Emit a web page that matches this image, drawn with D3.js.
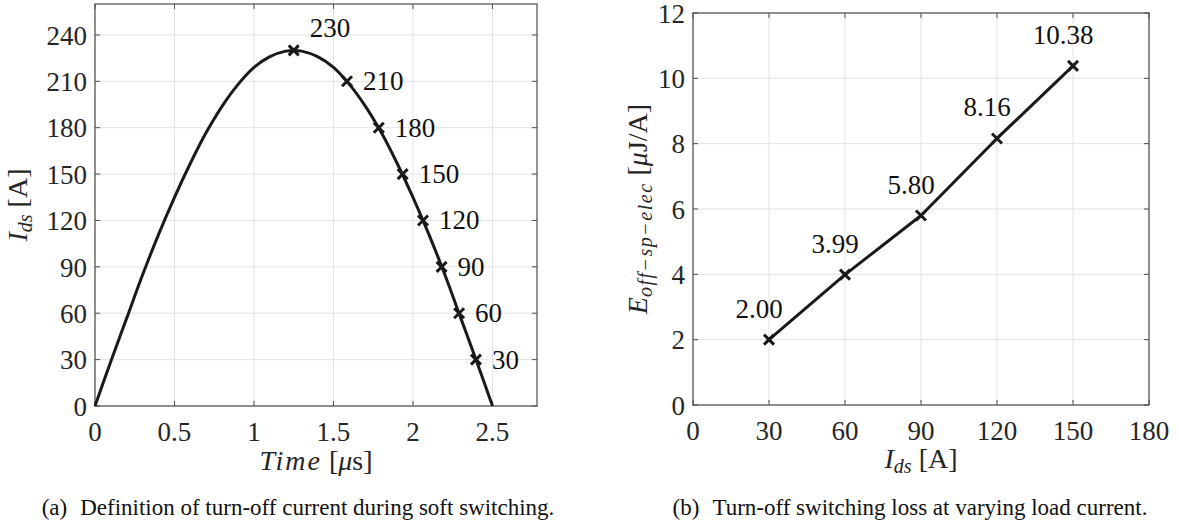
<!DOCTYPE html>
<html>
<head>
<meta charset="utf-8">
<script src="https://cdn.jsdelivr.net/npm/d3@7"></script>
<style>
  body { margin: 0; background: #fff; }
  svg { display: block; }
</style>
</head>
<body>
<div id="chart"></div>
<script>
// ---- data ----
// (a) turn-off current waveform, sampled along the drawn curve
var curveTime = [0, 0.1, 0.2, 0.3, 0.4, 0.5, 0.6, 0.7, 0.8, 0.9, 1.0, 1.1, 1.2, 1.25,
                 1.3, 1.4, 1.5, 1.6, 1.7, 1.8, 1.9, 2.0, 2.1, 2.2, 2.3, 2.4, 2.5];
var curveCurrent = [0, 29, 57, 85, 111, 135, 157, 177, 194, 208, 219, 226, 229.5, 230,
                    229.5, 226, 219, 208, 194, 177, 157, 135, 111, 85, 57, 29, 0];
// marked turn-off points
var markTime = [1.25, 1.585, 1.785, 1.935, 2.063, 2.18, 2.29, 2.396];
var markCurrent = [230, 210, 180, 150, 120, 90, 60, 30];
var timeTicks = [0, 0.5, 1, 1.5, 2, 2.5];
var idsTicks = [0, 30, 60, 90, 120, 150, 180, 210, 240];

// (b) specific turn-off switching loss
var lossCurrent = [30, 60, 90, 120, 150];
var lossEnergy = [2.00, 3.99, 5.80, 8.16, 10.38];
var currentTicks = [0, 30, 60, 90, 120, 150, 180];
var energyTicks = [0, 2, 4, 6, 8, 10, 12];

// ---- setup ----
var W = 1179, H = 527;
var svg = d3.select("#chart").append("svg")
	.attr("width", W)
	.attr("height", H);
svg.append("rect").attr("width", W).attr("height", H).attr("fill", "#fff");

var axisColor = "#4d4d4d",
	labelColor = "#262626",
	gridColor = "#e3e3e3",
	lineColor = "#1a1a1a",
	tickFont = 27;

// draws box, grid, ticks and tick labels for one panel
function drawFrame(g, x, y, xTicks, yTicks) {
	var x0 = x.range()[0], x1 = x.range()[1];
	var y0 = y.range()[0], y1 = y.range()[1];

	// grid
	g.selectAll(".vgrid").data(xTicks).enter().append("line")
		.attr("x1", function (d) { return x(d); }).attr("x2", function (d) { return x(d); })
		.attr("y1", y0).attr("y2", y1)
		.attr("stroke", gridColor).attr("stroke-width", 1);
	g.selectAll(".hgrid").data(yTicks).enter().append("line")
		.attr("y1", function (d) { return y(d); }).attr("y2", function (d) { return y(d); })
		.attr("x1", x0).attr("x2", x1)
		.attr("stroke", gridColor).attr("stroke-width", 1);

	// inward ticks on all four sides
	var tl = 5;
	xTicks.forEach(function (d) {
		g.append("line").attr("x1", x(d)).attr("x2", x(d)).attr("y1", y0).attr("y2", y0 - tl)
			.attr("stroke", axisColor);
		g.append("line").attr("x1", x(d)).attr("x2", x(d)).attr("y1", y1).attr("y2", y1 + tl)
			.attr("stroke", axisColor);
	});
	yTicks.forEach(function (d) {
		g.append("line").attr("y1", y(d)).attr("y2", y(d)).attr("x1", x0).attr("x2", x0 + tl)
			.attr("stroke", axisColor);
		g.append("line").attr("y1", y(d)).attr("y2", y(d)).attr("x1", x1).attr("x2", x1 - tl)
			.attr("stroke", axisColor);
	});

	// box
	g.append("rect")
		.attr("x", x0).attr("y", y1)
		.attr("width", x1 - x0).attr("height", y0 - y1)
		.attr("fill", "none").attr("stroke", axisColor).attr("stroke-width", 1.2);

	// tick labels
	g.selectAll(".xlab").data(xTicks).enter().append("text")
		.attr("x", function (d) { return x(d); })
		.attr("y", y0 + 35)
		.attr("text-anchor", "middle")
		.attr("font-size", tickFont)
		.attr("fill", labelColor)
		.text(function (d) { return String(d); });
	g.selectAll(".ylab").data(yTicks).enter().append("text")
		.attr("x", x0 - 8)
		.attr("y", function (d) { return y(d); })
		.attr("dy", "0.36em")
		.attr("text-anchor", "end")
		.attr("font-size", tickFont)
		.attr("fill", labelColor)
		.text(function (d) { return String(d); });
}

function drawCross(g, cx, cy) {
	var s = 5;
	g.append("path")
		.attr("d", "M" + (cx - s) + "," + (cy - s) + "L" + (cx + s) + "," + (cy + s) +
			"M" + (cx - s) + "," + (cy + s) + "L" + (cx + s) + "," + (cy - s))
		.attr("stroke", lineColor)
		.attr("stroke-width", 3)
		.attr("fill", "none");
}

//=====================================================================
// Panel (a)
//=====================================================================
var xA = d3.scaleLinear().domain([0, 2.78]).range([95, 537]);
var yA = d3.scaleLinear().domain([0, 260]).range([406, 4]);
var gA = svg.append("g");

drawFrame(gA, xA, yA, timeTicks, idsTicks);

var curveData = curveTime.map(function (t, i) { return { t: t, v: curveCurrent[i] }; });
var lineA = d3.line()
	.x(function (d) { return xA(d.t); })
	.y(function (d) { return yA(d.v); })
	.curve(d3.curveCatmullRom);
gA.append("path")
	.datum(curveData)
	.attr("d", lineA)
	.attr("fill", "none")
	.attr("stroke", lineColor)
	.attr("stroke-width", 3)
	.attr("stroke-linejoin", "round");

var peak = d3.max(markCurrent);
markTime.forEach(function (t, i) {
	var cx = xA(t), cy = yA(markCurrent[i]);
	drawCross(gA, cx, cy);
	var isPeak = markCurrent[i] === peak;
	gA.append("text")
		.attr("x", cx + 16)
		.attr("y", isPeak ? cy - 13 : cy + 9)
		.attr("font-size", tickFont)
		.attr("fill", "#111")
		.text(markCurrent[i]);
});

// axis labels (a)
var xlabA = gA.append("text")
	.attr("x", (xA.range()[0] + xA.range()[1]) / 2)
	.attr("y", 470)
	.attr("text-anchor", "middle")
	.attr("font-size", 28)
	.attr("fill", labelColor);
xlabA.append("tspan").attr("font-style", "italic").attr("letter-spacing", 2).text("Time");
xlabA.append("tspan").text(" [");
xlabA.append("tspan").attr("font-style", "italic").text("\u03bc");
xlabA.append("tspan").text("s]");

var ylabA = gA.append("text")
	.attr("transform", "translate(27," + (yA.range()[0] + yA.range()[1]) / 2 + ") rotate(-90)")
	.attr("text-anchor", "middle")
	.attr("font-size", 28)
	.attr("fill", labelColor);
ylabA.append("tspan").attr("font-style", "italic").text("I");
ylabA.append("tspan").attr("font-style", "italic").attr("font-size", 20).attr("dy", 5).text("ds");
ylabA.append("tspan").attr("dy", -5).text(" [A]");

//=====================================================================
// Panel (b)
//=====================================================================
var xB = d3.scaleLinear().domain([0, 180]).range([693, 1149]);
var yB = d3.scaleLinear().domain([0, 12]).range([405, 13]);
var gB = svg.append("g");

drawFrame(gB, xB, yB, currentTicks, energyTicks);

var lossData = lossCurrent.map(function (c, i) { return { c: c, e: lossEnergy[i] }; });
var lineB = d3.line()
	.x(function (d) { return xB(d.c); })
	.y(function (d) { return yB(d.e); });
gB.append("path")
	.datum(lossData)
	.attr("d", lineB)
	.attr("fill", "none")
	.attr("stroke", lineColor)
	.attr("stroke-width", 3)
	.attr("stroke-linejoin", "round");

var fmt2 = d3.format(".2f");
lossData.forEach(function (d) {
	var cx = xB(d.c), cy = yB(d.e);
	drawCross(gB, cx, cy);
	gB.append("text")
		.attr("x", cx - 10)
		.attr("y", cy - 22)
		.attr("text-anchor", "middle")
		.attr("font-size", tickFont)
		.attr("fill", "#111")
		.text(fmt2(d.e));
});

// axis labels (b)
var xlabB = gB.append("text")
	.attr("x", (xB.range()[0] + xB.range()[1]) / 2)
	.attr("y", 468)
	.attr("text-anchor", "middle")
	.attr("font-size", 28)
	.attr("fill", labelColor);
xlabB.append("tspan").attr("font-style", "italic").text("I");
xlabB.append("tspan").attr("font-style", "italic").attr("font-size", 20).attr("dy", 5).text("ds");
xlabB.append("tspan").attr("dy", -5).text(" [A]");

var ylabB = gB.append("text")
	.attr("transform", "translate(647," + (yB.range()[0] + yB.range()[1]) / 2 + ") rotate(-90)")
	.attr("text-anchor", "middle")
	.attr("font-size", 28)
	.attr("fill", labelColor);
ylabB.append("tspan").attr("font-style", "italic").text("E");
ylabB.append("tspan").attr("font-style", "italic").attr("font-size", 20).attr("letter-spacing", 1.5)
	.attr("dy", 5).text("off\u2212sp\u2212elec");
ylabB.append("tspan").attr("dy", -5).text(" [");
ylabB.append("tspan").attr("font-style", "italic").text("\u03bc");
ylabB.append("tspan").text("J/A]");

//=====================================================================
// Captions
//=====================================================================
var captions = [
	{ tag: "(a)", text: "Definition of turn-off current during soft switching.", x: 298 },
	{ tag: "(b)", text: "Turn-off switching loss at varying load current.", x: 910 }
];
captions.forEach(function (c) {
	var t = svg.append("text")
		.attr("x", c.x)
		.attr("y", 515)
		.attr("text-anchor", "middle")
		.attr("font-size", 23)
		.attr("fill", "#111");
	t.append("tspan").text(c.tag);
	t.append("tspan").attr("dx", 13).text(c.text);
});

// serif everywhere (set directly on each text)
svg.selectAll("text").attr("font-family", "Liberation Serif");
</script>
</body>
</html>
